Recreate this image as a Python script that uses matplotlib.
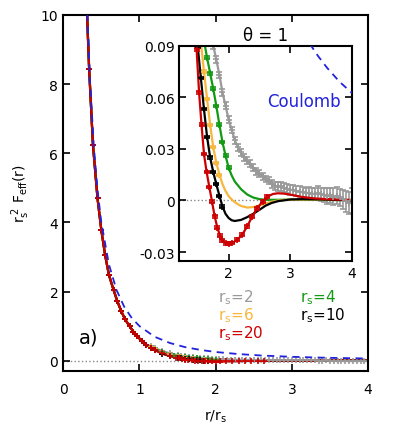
import numpy as np
import matplotlib.pyplot as plt

# Tramo corto: todas las curvas coinciden (r/rs, rs^2 Feff)
r_corto = [0.31, 0.34, 0.39, 0.45, 0.50, 0.55, 0.60, 0.66, 0.71, 0.76, 0.81, 0.87, 0.92, 0.97, 1.03, 1.09]
f_corto = [10.2, 8.45, 6.25, 4.7, 3.78, 3.05, 2.48, 2.05, 1.72, 1.44, 1.20, 1.0, 0.84, 0.70, 0.58, 0.46]

# rs = 2 (gris)
r_rs2 = [1.15, 1.2, 1.3, 1.4, 1.5, 1.55, 1.6, 1.65, 1.70, 1.75, 1.80, 1.85, 1.90, 1.95, 2.0, 2.05, 2.1,
         2.15, 2.2, 2.25, 2.3, 2.35, 2.4, 2.45, 2.5, 2.55, 2.6, 2.65, 2.7, 2.75, 2.8, 2.85, 2.9, 2.95,
         3.0, 3.05, 3.1, 3.15, 3.2, 3.25, 3.3, 3.35, 3.4, 3.45, 3.5, 3.55, 3.6, 3.65, 3.7, 3.75, 3.8,
         3.85, 3.9, 3.95, 4.0]
f_rs2 = [0.41, 0.36, 0.28, 0.21, 0.16, 0.14, 0.125, 0.11, 0.099, 0.09, 0.082, 0.073, 0.063, 0.055, 0.047,
         0.041, 0.035, 0.031, 0.028, 0.025, 0.023, 0.0215, 0.019, 0.017, 0.0155, 0.014, 0.0125, 0.0115,
         0.0095, 0.0085, 0.008, 0.0082, 0.0075, 0.0068, 0.0062, 0.006, 0.0055, 0.0052, 0.0048, 0.0045,
         0.0042, 0.004, 0.0038, 0.0042, 0.0035, 0.0032, 0.0025, 0.003, 0.0022, 0.0028, 0.0018, 0.0008,
         -0.0005, -0.0015, 0.0]
e_rs2 = [0.002, 0.002, 0.002, 0.002, 0.002, 0.002, 0.002, 0.002, 0.002, 0.002, 0.002, 0.002, 0.002,
         0.002, 0.002, 0.002, 0.002, 0.002, 0.002, 0.002, 0.002, 0.002, 0.002, 0.002, 0.002, 0.002,
         0.002, 0.002, 0.0025, 0.0025, 0.0025, 0.0025, 0.0025, 0.0025, 0.003, 0.003, 0.003, 0.003,
         0.003, 0.003, 0.0035, 0.0035, 0.0035, 0.004, 0.004, 0.004, 0.0045, 0.0045, 0.005, 0.005,
         0.005, 0.0055, 0.006, 0.0065, 0.007]

# rs = 4 (verde)
r_rs4 = [1.15, 1.2, 1.3, 1.4, 1.45, 1.5, 1.55, 1.60, 1.65, 1.70, 1.75, 1.80, 1.85, 1.90, 1.95, 2.0, 2.05,
         2.1, 2.2, 2.3, 2.4, 2.5, 2.6, 2.8, 3.0, 3.3, 3.6, 4.0]
f_rs4 = [0.40, 0.34, 0.25, 0.175, 0.145, 0.12, 0.105, 0.093, 0.083, 0.074, 0.065, 0.055, 0.044, 0.034,
         0.026, 0.019, 0.0145, 0.011, 0.0066, 0.0035, 0.0017, 0.0008, 0.0004, 0.0004, 0.0005, 0.0004,
         0.0003, 0.0002]

# rs = 6 (amarillo)
r_rs6 = [1.15, 1.2, 1.3, 1.4, 1.5, 1.55, 1.60, 1.65, 1.70, 1.75, 1.80, 1.85, 1.90, 1.95, 2.0, 2.06, 2.12,
         2.2, 2.3, 2.4, 2.5, 2.6, 2.7, 2.8, 3.0, 3.3, 3.6, 4.0]
f_rs6 = [0.39, 0.33, 0.23, 0.155, 0.11, 0.092, 0.075, 0.059, 0.044, 0.031, 0.022, 0.015, 0.0095, 0.0055,
         0.0025, 0.0002, -0.0015, -0.0032, -0.0041, -0.0038, -0.003, -0.0017, -0.0007, 0.0, 0.0005,
         0.0006, 0.0004, 0.0003]

# rs = 10 (negro)
r_rs10 = [1.15, 1.2, 1.3, 1.4, 1.50, 1.55, 1.60, 1.65, 1.70, 1.75, 1.80, 1.85, 1.90, 1.95, 2.0, 2.05, 2.1,
          2.2, 2.3, 2.4, 2.5, 2.6, 2.7, 2.8, 3.0, 3.2, 3.4, 3.6, 3.8, 4.0]
f_rs10 = [0.38, 0.31, 0.20, 0.135, 0.089, 0.071, 0.053, 0.037, 0.025, 0.0165, 0.0095, 0.0028, -0.0035,
          -0.0078, -0.0102, -0.0115, -0.0119, -0.0113, -0.0097, -0.0077, -0.0054, -0.003, -0.0014,
          -0.0004, 0.0006, 0.0008, 0.0007, 0.0005, 0.0003, 0.0002]

# rs = 20 (rojo)
r_rs20 = [1.15, 1.2, 1.3, 1.4, 1.48, 1.52, 1.56, 1.60, 1.643, 1.687, 1.73, 1.773, 1.817, 1.86, 1.90, 1.95,
          2.0, 2.06, 2.14, 2.22, 2.30, 2.38, 2.46, 2.55, 2.63, 2.72, 2.8, 2.9, 3.0, 3.2, 3.4, 3.6, 3.8, 4.0]
f_rs20 = [0.38, 0.31, 0.21, 0.14, 0.088, 0.063, 0.044, 0.027, 0.0165, 0.0078, -0.0006, -0.0092, -0.0158,
          -0.0205, -0.0232, -0.0248, -0.0252, -0.0247, -0.0228, -0.0199, -0.0151, -0.0095, -0.0046,
          -0.0006, 0.0023, 0.0038, 0.0042, 0.004, 0.0034, 0.002, 0.0012, 0.0008, 0.0005, 0.0003]

# Coulomb
r_coul = [0.31, 0.35, 0.4, 0.45, 0.5, 0.6, 0.7, 0.8, 0.9, 1.0, 1.2, 1.4, 1.6, 1.8, 2.0, 2.3, 2.6, 3.0,
          3.15, 3.3, 3.45, 3.6, 3.8, 4.0]
f_coul = [10.4, 8.16, 6.25, 4.94, 4.0, 2.78, 2.04, 1.56, 1.23, 1.0, 0.69, 0.51, 0.39, 0.31, 0.25, 0.19,
          0.148, 0.111, 0.101, 0.092, 0.084, 0.077, 0.069, 0.0625]

series = [
    ('2', r_rs2, f_rs2, e_rs2, '#999999', 4.0),
    ('4', r_rs4, f_rs4, 0.0008, '#139a13', 2.0),
    ('6', r_rs6, f_rs6, 0.0006, '#f7b63c', 1.87),
    ('10', r_rs10, f_rs10, 0.0006, 'black', 1.9),
    ('20', r_rs20, f_rs20, 0.0008, '#cc0000', 2.64),
]
azul = '#2222dd'


def dibujar(ax):
    ax.axhline(0, color='#888888', ls=':', lw=1, zorder=1)
    for nombre, r, f, e, color, r_fin in series:
        x = np.array(r_corto + r)
        y = np.array(f_corto + f)
        err = np.concatenate([np.full(len(r_corto), 0.001), np.broadcast_to(e, len(r))])
        m = x <= r_fin
        ax.plot(x, y, color=color, lw=1.6, zorder=2)
        ax.errorbar(x[m], y[m], yerr=err[m], fmt='+', color=color, ms=5, mew=1.2,
                    elinewidth=1.2, capsize=2, zorder=2)
    ax.plot(r_coul, f_coul, ls=(0, (4, 3)), color=azul, lw=1.3, zorder=3)
    ax.tick_params(direction='in', top=True, right=True, length=5, width=1.2, labelsize=10)
    for s in ax.spines.values():
        s.set_linewidth(1.5)


fig = plt.figure(figsize=(3.95, 4.39), dpi=100)
ax = fig.add_axes([0.160, 0.1526, 0.772, 0.811])
dibujar(ax)
ax.set_xlim(0, 4)
ax.set_ylim(-0.3, 10)
ax.set_xticks([0, 1, 2, 3, 4])
ax.set_yticks([0, 2, 4, 6, 8, 10])
ax.tick_params(axis='x', pad=8)
ax.set_xlabel(r'$\mathregular{r/r_s}$', fontsize=10, labelpad=8)
ax.set_ylabel(r'$\mathregular{r_s^{\ 2}\ F_{eff}(r)}$', fontsize=10, labelpad=6)
ax.text(0.2, 0.68, 'a)', fontsize=14, va='center')

# etiquetas de rs dentro del panel principal
etiquetas = [(2.03, 1.84, 'r$\\mathregular{_s}$=2', '#999999'),
             (2.03, 1.32, 'r$\\mathregular{_s}$=6', '#f7b63c'),
             (2.03, 0.80, 'r$\\mathregular{_s}$=20', '#cc0000'),
             (3.1, 1.84, 'r$\\mathregular{_s}$=4', '#139a13'),
             (3.1, 1.32, 'r$\\mathregular{_s}$=10', 'black')]
for xt, yt, txt, c in etiquetas:
    ax.text(xt, yt, txt, color=c, fontsize=11, va='center')

ins = fig.add_axes([0.454, 0.4039, 0.437, 0.4897])
dibujar(ins)
ins.set_xlim(1.2, 4)
ins.set_ylim(-0.035, 0.09)
ins.set_xticks([2, 3, 4])
ins.set_yticks([-0.03, 0, 0.03, 0.06, 0.09])
ins.set_yticklabels(['-0.03', '0', '0.03', '0.06', '0.09'])
ins.set_title('θ = 1', fontsize=12, pad=4)
ins.text(2.63, 0.058, 'Coulomb', color=azul, fontsize=12, va='center')

fig.savefig('out.png', dpi=100)
